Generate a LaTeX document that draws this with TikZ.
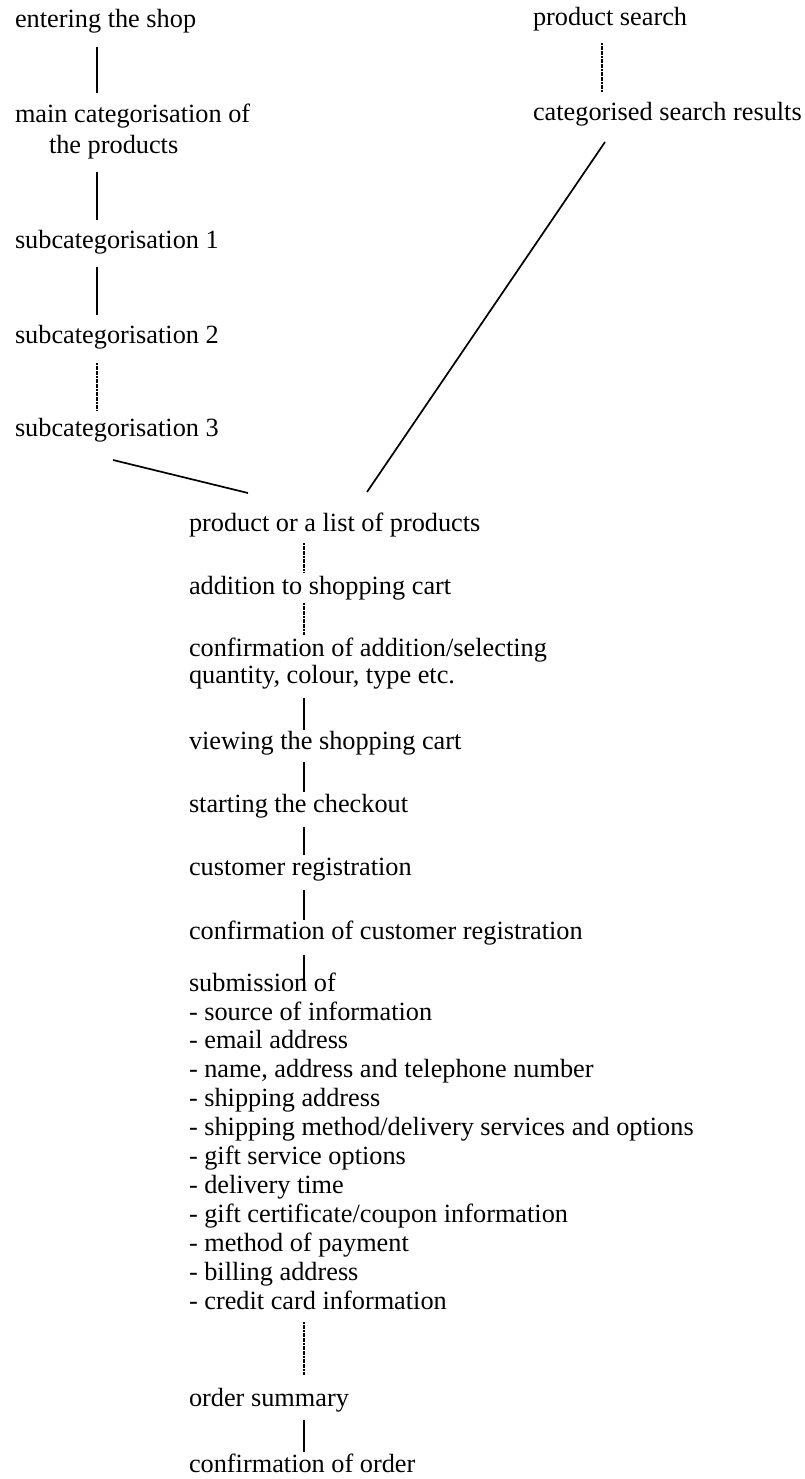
\documentclass[tikz,border=0pt]{standalone}
\usepackage{fontspec}
\setmainfont{Liberation Serif}
\usetikzlibrary{calc}
\begin{document}
\begin{tikzpicture}[x=1pt,y=-1pt,
  lbl/.style={anchor=base west, inner sep=0pt, outer sep=0pt,
    font=\fontsize{26.3}{29}\selectfont, text height=18pt, text depth=6pt},
  % multi-line labels are placed by the baseline of their last line
  multi/.style={anchor=base west, inner sep=0pt, outer sep=0pt, align=left,
    font=\fontsize{26.3}{#1}\selectfont},
  conn/.style={line width=1.9pt},
  dots/.style={line width=1.5pt, dash pattern=on 2pt off 0.6pt},
  slant/.style={line width=1.7pt}]
\useasboundingbox (0,0) rectangle (805,1479);

% column axes for the vertical connectors
\coordinate (axL) at (97,0);
\coordinate (axR) at (602,0);
\coordinate (axM) at (304,0);

% browsing path
\node[lbl] (shop) at (15,28) {entering the shop};
\node[multi=31] (maincat) at (15,154) {main categorisation of\\\hspace*{34pt}the products};
\node[lbl] (sub1) at (15,248) {subcategorisation 1};
\node[lbl] (sub2) at (15,343) {subcategorisation 2};
\node[lbl] (sub3) at (15,436) {subcategorisation 3};

% search path
\node[lbl] (search) at (533,26) {product search};
\node[lbl] (results) at (533,121) {categorised search results};

% ordering path
\node[lbl] (prod) at (189,531) {product or a list of products};
\node[lbl] (cart) at (189,594) {addition to shopping cart};
\node[multi=27] (confadd) at (189,683) {confirmation of addition/selecting\\quantity, colour, type etc.};
\node[lbl] (view) at (189,749) {viewing the shopping cart};
\node[lbl] (checkout) at (189,812) {starting the checkout};
\node[lbl] (reg) at (189,875) {customer registration};
\node[lbl] (confreg) at (189,939) {confirmation of customer registration};
\node[multi=28.9] (submit) at (189,1309) {submission of\\
- source of information\\
- email address\\
- name, address and telephone number\\
- shipping address\\
- shipping method/delivery services and options\\
- gift service options\\
- delivery time\\
- gift certificate/coupon information\\
- method of payment\\
- billing address\\
- credit card information};
\node[lbl] (summary) at (189,1406) {order summary};
\node[lbl] (order) at (189,1472) {confirmation of order};

% left column connectors
\draw[conn] ($(shop.south -| axL)+(0,13)$) -- ($(maincat.north -| axL)+(0,-11)$);
\draw[conn] ($(maincat.south -| axL)+(0,12)$) -- ($(sub1.north -| axL)+(0,-10)$);
\draw[conn] ($(sub1.south -| axL)+(0,13)$) -- ($(sub2.north -| axL)+(0,-10)$);
\draw[dots] ($(sub2.south -| axL)+(0,14)$) -- ($(sub3.north -| axL)+(0,-7)$);

% search connector
\draw[dots] ($(search.south -| axR)+(0,11)$) -- ($(results.north -| axR)+(0,-11)$);

% joins into the product list
\draw[slant] ($(sub3.south west)+(98,18)$) -- ($(prod.north west)+(59,-20)$);
\draw[slant] ($(results.south west)+(72,15)$) -- ($(prod.north west)+(178,-21)$);

% main column connectors
\draw[dots] ($(prod.south -| axM)+(0,6)$) -- ($(cart.north -| axM)+(0,-4)$);
\draw[dots] ($(cart.south -| axM)+(0,3)$) -- ($(confadd.north -| axM)+(0,-3)$);
\draw[conn] ($(confadd.south -| axM)+(0,9)$) -- ($(view.north -| axM)+(0,-1)$);
\draw[conn] ($(view.south -| axM)+(0,7)$) -- ($(checkout.north -| axM)+(0,-2)$);
\draw[conn] ($(checkout.south -| axM)+(0,9)$) -- ($(reg.north -| axM)+(0,-2)$);
\draw[conn] ($(reg.south -| axM)+(0,9)$) -- ($(confreg.north -| axM)+(0,-1)$);
\draw[conn] ($(confreg.south -| axM)+(0,10)$) -- ($(submit.north -| axM)+(0,17)$);
\draw[dots] ($(submit.south -| axM)+(0,13)$) -- ($(summary.north -| axM)+(0,-13)$);
\draw[conn] ($(summary.south -| axM)+(0,8)$) -- ($(order.north -| axM)+(0,-2)$);
\end{tikzpicture}
\end{document}
